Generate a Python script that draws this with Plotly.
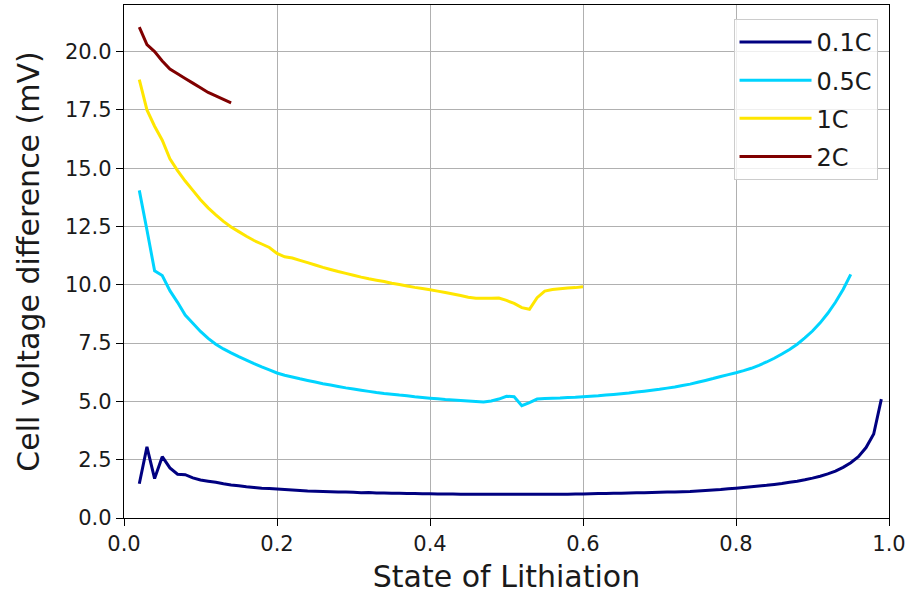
import numpy as np
import plotly.graph_objects as go

# State of lithiation grid (0.01 steps) for each C-rate
x_01C = [round(0.02 + 0.01 * i, 2) for i in range(98)]   # 0.02 .. 0.99
x_05C = [round(0.02 + 0.01 * i, 2) for i in range(94)]   # 0.02 .. 0.95
x_1C = [round(0.02 + 0.01 * i, 2) for i in range(59)]    # 0.02 .. 0.60
x_2C = [round(0.02 + 0.01 * i, 2) for i in range(13)]    # 0.02 .. 0.14

# Cell voltage difference (mV)
y_01C = [
    1.47, 3.05, 1.69, 2.63, 2.15, 1.88, 1.86, 1.72, 1.63, 1.58,
    1.53, 1.47, 1.42, 1.38, 1.34, 1.31, 1.28, 1.26, 1.24, 1.22,
    1.20, 1.18, 1.16, 1.15, 1.14, 1.13, 1.12, 1.11, 1.10, 1.08,
    1.09, 1.07, 1.07, 1.06, 1.06, 1.05, 1.05, 1.04, 1.04, 1.03,
    1.03, 1.03, 1.02, 1.02, 1.02, 1.02, 1.02, 1.02, 1.02, 1.02,
    1.02, 1.02, 1.02, 1.02, 1.02, 1.02, 1.02, 1.03, 1.03, 1.04,
    1.05, 1.05, 1.06, 1.06, 1.07, 1.08, 1.08, 1.09, 1.10, 1.11,
    1.12, 1.13, 1.14, 1.16, 1.18, 1.20, 1.22, 1.25, 1.28, 1.31,
    1.34, 1.37, 1.40, 1.44, 1.48, 1.53, 1.58, 1.64, 1.71, 1.79,
    1.89, 2.01, 2.17, 2.37, 2.63, 3.02, 3.60, 5.10,
]
y_05C = [
    14.05, 12.35, 10.60, 10.40, 9.75, 9.25, 8.70, 8.35, 8.00, 7.70,
    7.45, 7.25, 7.08, 6.92, 6.77, 6.62, 6.48, 6.35, 6.22, 6.12,
    6.05, 5.97, 5.90, 5.83, 5.76, 5.70, 5.64, 5.58, 5.53, 5.48,
    5.43, 5.38, 5.34, 5.31, 5.27, 5.24, 5.20, 5.17, 5.14, 5.11,
    5.08, 5.06, 5.04, 5.02, 5.00, 4.98, 5.02, 5.10, 5.22, 5.20,
    4.82, 4.95, 5.10, 5.12, 5.14, 5.15, 5.17, 5.18, 5.20, 5.22,
    5.24, 5.27, 5.30, 5.33, 5.36, 5.40, 5.44, 5.48, 5.52, 5.57,
    5.62, 5.68, 5.74, 5.82, 5.90, 5.98, 6.07, 6.15, 6.23, 6.32,
    6.42, 6.55, 6.69, 6.85, 7.03, 7.23, 7.45, 7.72, 8.02, 8.37,
    8.78, 9.25, 9.80, 10.45,
]
y_1C = [
    18.80, 17.50, 16.80, 16.20, 15.40, 14.90, 14.45, 14.05, 13.65, 13.30,
    13.00, 12.72, 12.48, 12.28, 12.08, 11.90, 11.75, 11.60, 11.35, 11.20,
    11.15, 11.05, 10.95, 10.85, 10.75, 10.66, 10.57, 10.49, 10.41, 10.33,
    10.26, 10.20, 10.14, 10.07, 10.01, 9.95, 9.89, 9.84, 9.79, 9.73,
    9.67, 9.61, 9.54, 9.47, 9.42, 9.42, 9.42, 9.43, 9.33, 9.20,
    9.02, 8.95, 9.45, 9.73, 9.80, 9.83, 9.86, 9.88, 9.92,
]
y_2C = [
    21.05, 20.30, 20.00, 19.60, 19.25, 19.05, 18.85, 18.65, 18.45, 18.25,
    18.10, 17.95, 17.80,
]

series_names = ["0.1C", "0.5C", "1C", "2C"]
series_colors = ["#000080", "#00d4ff", "#ffe600", "#800000"]

fig = go.Figure()
for name, xs, ys, col in zip(series_names,
                             [x_01C, x_05C, x_1C, x_2C],
                             [y_01C, y_05C, y_1C, y_2C],
                             series_colors):
    fig.add_trace(go.Scatter(x=xs, y=ys, mode="lines", name=name,
                             legendgroup=name,
                             line=dict(color=col, width=3, simplify=False)))

axis_common = dict(
    showline=True, linecolor="black", linewidth=1.3, mirror=True,
    showgrid=True, gridcolor="#b0b0b0", gridwidth=1.3,
    zeroline=False, ticks="outside", ticklen=7, tickwidth=1.3,
    tickcolor="black", tickfont=dict(size=21, color="#1a1a1a"),
    tickformat=".1f",
)

fig.update_xaxes(range=[0, 1], tick0=0, dtick=0.2,
                 title=dict(text="State of Lithiation", font=dict(size=30, color="#1a1a1a"),
                            standoff=10),
                 **axis_common)
fig.update_yaxes(range=[0, 22], tick0=0, dtick=2.5,
                 title=dict(text="Cell voltage difference (mV)",
                            font=dict(size=30, color="#1a1a1a"), standoff=16),
                 **axis_common)

fig.update_layout(
    width=911, height=597,
    margin=dict(l=124, r=22, t=5, b=79),
    plot_bgcolor="white", paper_bgcolor="white",
    font=dict(family="DejaVu Sans", color="#1a1a1a"),
    legend=dict(x=0.985, y=0.973, xanchor="right", yanchor="top",
                bgcolor="rgba(255,255,255,0.8)", bordercolor="#cccccc",
                borderwidth=1, font=dict(size=24, color="#1a1a1a"),
                tracegroupgap=4, itemwidth=72),
)

fig.write_html("out.html")
